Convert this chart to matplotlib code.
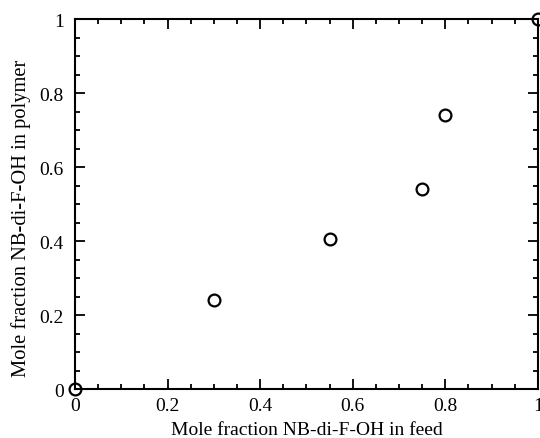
import matplotlib.pyplot as plt
from matplotlib.ticker import MultipleLocator

feed = [0.0, 0.30, 0.55, 0.75, 0.80, 1.0]
polymer = [0.0, 0.24, 0.405, 0.54, 0.74, 1.0]
ticks = [0, 0.2, 0.4, 0.6, 0.8, 1]
tick_labels = ["0", "0.2", "0.4", "0.6", "0.8", "1"]

plt.rcParams['font.family'] = ['Liberation Serif', 'DejaVu Serif']

fig = plt.figure(figsize=(5.4, 4.39), dpi=100)
ax = fig.add_axes([0.139, 0.1116, 0.857, 0.8428])

ax.plot(feed, polymer, linestyle='none', marker='o', markersize=8.5,
        markerfacecolor='none', markeredgecolor='black', markeredgewidth=1.6,
        clip_on=False, zorder=5)

ax.set_xlim(0, 1)
ax.set_ylim(0, 1)
ax.set_xticks(ticks)
ax.set_xticklabels(tick_labels)
ax.set_yticks(ticks)
ax.set_yticklabels(tick_labels)
ax.xaxis.set_minor_locator(MultipleLocator(0.05))
ax.yaxis.set_minor_locator(MultipleLocator(0.05))
ax.tick_params(which='both', direction='in', top=True, right=True,
               width=1.3, labelsize=14)
ax.tick_params(which='major', length=7)
ax.tick_params(which='minor', length=3.6)
ax.tick_params(axis='x', pad=6)
ax.tick_params(axis='y', pad=8)
for s in ax.spines.values():
    s.set_linewidth(1.5)

ax.set_xlabel('Mole fraction NB-di-F-OH in feed', fontsize=14, labelpad=5)
ax.set_ylabel('Mole fraction NB-di-F-OH in polymer', fontsize=14.8)
ax.yaxis.set_label_coords(-0.095, 0.465)

fig.savefig('out.png', dpi=100)
